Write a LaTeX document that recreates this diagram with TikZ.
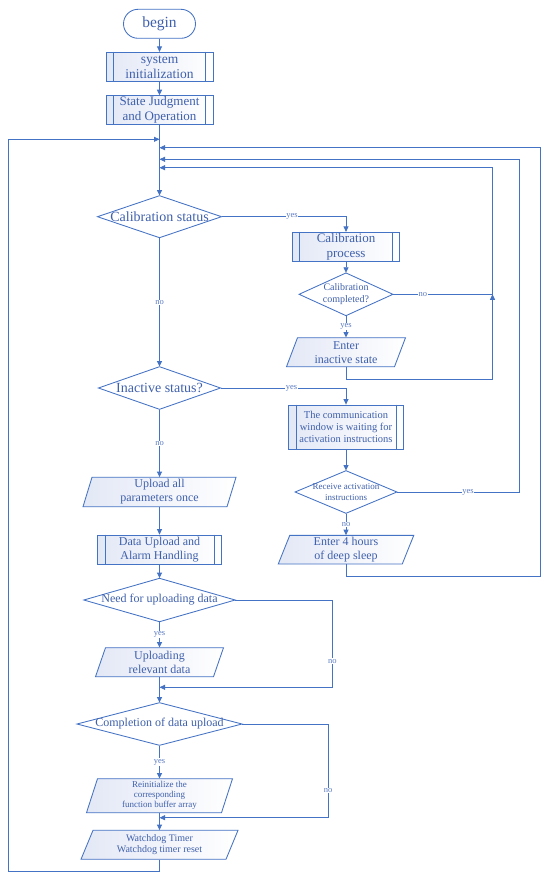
\documentclass[tikz,border=0pt]{standalone}
\usepackage{fontspec}
\setmainfont{Liberation Serif}
\usetikzlibrary{arrows.meta}
\definecolor{lc}{HTML}{4472C4}
\definecolor{tc}{HTML}{3F60AC}
\definecolor{lbc}{HTML}{5B7CC4}
\definecolor{fc}{HTML}{E3E8F6}
\tikzset{
 ln/.style={draw=lc, line width=0.85pt},
 arr/.style={ln, -{Triangle[length=5.5pt,width=5pt]}},
 txt/.style={text=tc, inner sep=0pt, align=center},
 lab/.style={text=lbc, font=\fontsize{8.5}{9}\selectfont, fill=white, inner sep=0.6pt},
 shd/.style={left color=fc, right color=white},
}
\newcommand\fs[2]{\fontsize{#1}{#2}\selectfont}
\newcommand\mydia[7]{%
 \draw[ln, fill=white] ({#2-#4/2},#3) -- (#2,{#3-#5/2}) -- ({#2+#4/2},#3) -- (#2,{#3+#5/2}) -- cycle;
 \node[txt, font=#6, minimum width=#4pt, minimum height=#5pt] (#1) at (#2,#3) {#7};}
\newcommand\mypara[8]{%
 \path[ln, shd] ({#2-#4/2+#6/2},{#3-#5/2}) -- ({#2+#4/2+#6/2},{#3-#5/2}) -- ({#2+#4/2-#6/2},{#3+#5/2}) -- ({#2-#4/2-#6/2},{#3+#5/2}) -- cycle;
 \node[txt, font=#7, minimum width=#4pt, minimum height=#5pt] (#1) at (#2,#3) {#8};}
\newcommand\myproc[7]{%
 \node[txt, ln, shd, font=#6, minimum width=#4pt, minimum height=#5pt] (#1) at (#2,#3) {#7};
 \draw[ln] ([xshift=8pt]#1.north west) -- ([xshift=8pt]#1.south west);
 \draw[ln] ([xshift=-8pt]#1.north east) -- ([xshift=-8pt]#1.south east);}
\begin{document}
\begin{tikzpicture}[x=1pt, y=-1pt]
\fill[white] (0,0) rectangle (550,878);
\useasboundingbox (0,0) rectangle (550,878);

\node[txt, ln, fill=white, rounded corners=14.5pt, minimum width=72pt, minimum height=29pt, font=\fs{15.5}{17}] (begin) at (159.5,23.8) {begin};
\myproc{init}{159.5}{66.8}{107}{29}{\fs{13.5}{15}}{system\\initialization}
\myproc{state}{159.5}{110}{107}{28.7}{\fs{13}{14.5}}{State Judgment\\and Operation}
\mydia{cal}{159.5}{216.7}{124}{42}{\fs{14}{16}}{Calibration status}
\myproc{calp}{346}{247}{107.4}{29.4}{\fs{13}{14.5}}{Calibration\\process}
\mydia{calc}{346}{294.3}{93.8}{42.7}{\fs{10}{11.5}}{Calibration\\completed?}
\mypara{ent}{346}{352.2}{108}{29}{11}{\fs{12}{14}}{Enter\\inactive state}
\mydia{ina}{159.5}{388}{122}{42.6}{\fs{14}{16}}{Inactive status?}
\myproc{comm}{346}{427}{115.2}{44}{\fs{10.5}{12}}{The communication\\window is waiting for\\activation instructions}
\mydia{rec}{346}{492}{101.8}{42.6}{\fs{9}{10.5}}{Receive activation\\instructions}
\mypara{ent4}{346}{549.7}{124}{28.7}{11.5}{\fs{12}{14}}{Enter 4 hours\\of deep sleep}
\mypara{upall}{159.5}{492}{144}{29.4}{9}{\fs{12}{14}}{Upload all\\parameters once}
\myproc{dua}{159.5}{549.7}{124}{29.3}{\fs{12}{14}}{Data Upload and\\Alarm Handling}
\mydia{need}{159.5}{600}{151.3}{43.4}{\fs{12}{14}}{Need for uploading data}
\mypara{uprel}{159.5}{662.2}{118}{29}{10}{\fs{12}{14}}{Uploading\\relevant data}
\mydia{comp}{159.5}{724}{165}{42.6}{\fs{12}{14}}{Completion of data upload}
\mypara{reinit}{159.5}{795.7}{135}{34}{11}{\fs{9}{10}}{Reinitialize the\\corresponding\\function buffer array}
\mypara{wd}{159.5}{844.8}{145}{29}{12}{\fs{10}{11.5}}{Watchdog Timer\\Watchdog timer reset}

\coordinate (m1) at (159.5,139.3);
\coordinate (m2) at (159.5,147.7);
\coordinate (m3) at (159.5,159.3);
\coordinate (m4) at (159.5,167.7);
\coordinate (lb) at (8.8,871.7);
\coordinate (lt) at (8.8,139.3);
\coordinate (j1) at (492.5,294.3);
\coordinate (j2) at (519.5,492);
\coordinate (b4) at (540.5,576);
\coordinate (n1) at (332.4,687.3);
\coordinate (n1m) at (159.5,687.3);
\coordinate (c1) at (328.2,817.7);
\coordinate (c1m) at (159.5,817.7);

\draw[arr] (begin.south) -- (init.north);
\draw[arr] (init.south) -- (state.north);
\draw[arr] (state.south) -- (cal.north);
\draw[arr] (wd.south) |- (lb) -- (lt) -- (m1);
\draw[arr] (cal.east) -| node[lab, pos=0.283]{yes} (calp.north);
\draw[arr] (calp.south) -- (calc.north);
\draw[ln] (calc.east) -- node[lab, pos=0.3]{no} (j1);
\draw[arr] (j1) |- (m4);
\draw[arr] (ent.south) -- ++(0,12.3) -| (j1);
\draw[arr] (calc.south) -- node[lab]{yes} (ent.north);
\draw[arr] (cal.south) -- node[lab]{no} (ina.north);
\draw[arr] (ina.east) -| node[lab, pos=0.283]{yes} (comm.north);
\draw[arr] (comm.south) -- (rec.north);
\draw[arr] (rec.east) -- node[lab, pos=0.58]{yes} (j2) |- (m3);
\draw[arr] (rec.south) -- node[lab]{no} (ent4.north);
\draw[arr] (ent4.south) |- (b4) |- (m2);
\draw[arr] (ina.south) -- node[lab]{no} (upall.north);
\draw[arr] (upall.south) -- (dua.north);
\draw[arr] (dua.south) -- (need.north);
\draw[arr] (need.east) -| node[lab, pos=0.85]{no} (n1) -- (n1m);
\draw[arr] (need.south) -- node[lab]{yes} (uprel.north);
\draw[arr] (uprel.south) -- (comp.north);
\draw[arr] (comp.east) -| node[lab, pos=0.856]{no} (c1) -- (c1m);
\draw[arr] (comp.south) -- node[lab]{yes} (reinit.north);
\draw[arr] (reinit.south) -- (wd.north);
\end{tikzpicture}
\end{document}
